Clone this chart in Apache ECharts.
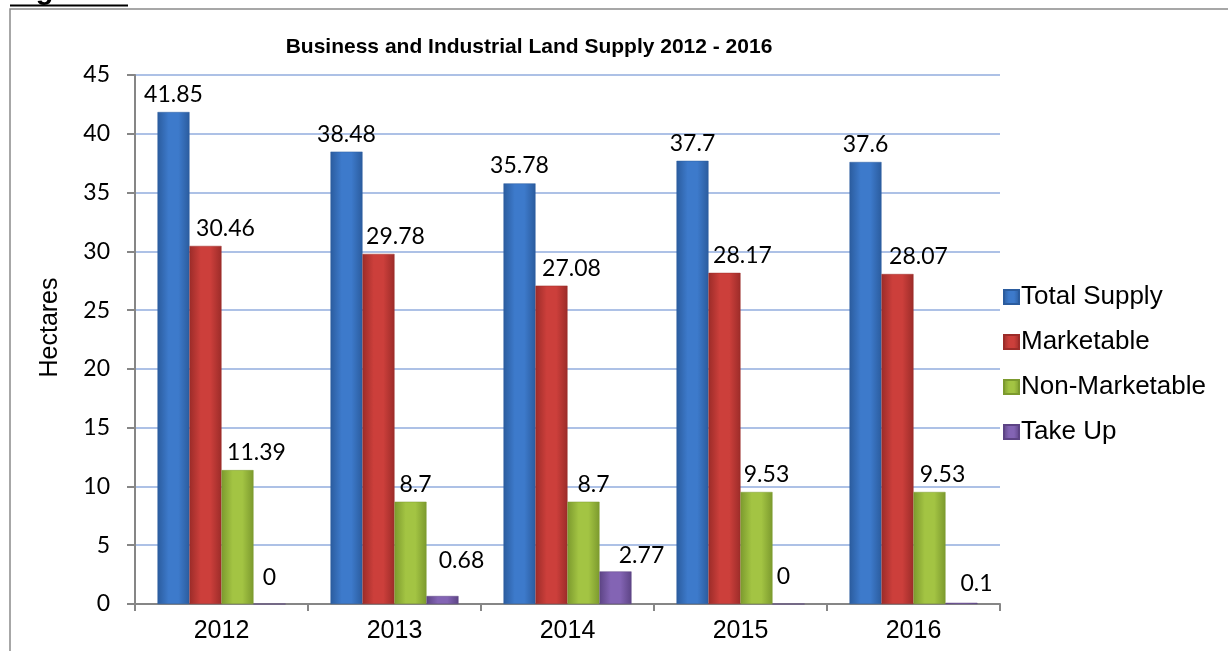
<!DOCTYPE html>
<html>
<head>
<meta charset="utf-8">
<script src="https://cdn.jsdelivr.net/npm/echarts@6/dist/echarts.min.js"></script>
<style>
  html, body { margin: 0; padding: 0; background: #ffffff; }
  #chart { width: 1228px; height: 651px; }
</style>
</head>
<body>
<div id="chart"></div>
<script>
// Land supply figures, hectares
const years = ['2012', '2013', '2014', '2015', '2016'];
const totalSupply = [41.85, 38.48, 35.78, 37.7, 37.6];
const marketable = [30.46, 29.78, 27.08, 28.17, 28.07];
const nonMarketable = [11.39, 8.7, 8.7, 9.53, 9.53];
const takeUp = [0, 0.68, 2.77, 0, 0.1];

// Label nudges (px) so the value labels sit as in the printed figure
const redShift = [[20, 0], [17, 0], [20, 0], [18, 0], [21, 0]];
const greenShift = [[19, 0], [5, 0], [10, 0], [10, 0], [13, 0]];
const purpleShift = [[0, -9], [19, -18], [26, 2], [-5, -10], [15, -2]];

function barFill(edge, mid) {
  return new echarts.graphic.LinearGradient(0, 0, 1, 0, [
    { offset: 0, color: edge },
    { offset: 0.35, color: mid },
    { offset: 0.65, color: mid },
    { offset: 1, color: edge }
  ]);
}

const labelFont = { fontFamily: 'Lato', fontSize: 23, color: '#000000' };

function series(name, values, edge, mid, shifts) {
  return {
    name: name,
    type: 'bar',
    barWidth: 32,
    barGap: '0%',
    itemStyle: { color: barFill(edge, mid), borderColor: edge, borderWidth: 0.5 },
    data: values.map((v, i) => ({
      value: v,
      label: { offset: shifts ? shifts[i] : [0, 0] }
    })),
    label: Object.assign({
      show: true,
      position: 'top',
      distance: 6,
      formatter: p => String(p.value)
    }, labelFont)
  };
}

const chart = echarts.init(document.getElementById('chart'), null, { renderer: 'canvas' });

chart.setOption({
  backgroundColor: '#ffffff',
  animation: false,
  title: {
    text: 'Business and Industrial Land Supply 2012 - 2016',
    left: 524,
    textAlign: 'center',
    top: 32,
    textStyle: { fontFamily: 'Liberation Sans', fontWeight: 'bold', fontSize: 21, color: '#000000' }
  },
  legend: {
    orient: 'vertical',
    left: 998,
    top: 279,
    itemWidth: 15,
    itemHeight: 14,
    itemGap: 19,
    icon: 'rect',
    textStyle: { fontFamily: 'Liberation Sans', fontSize: 26, color: '#000000', lineHeight: 26, padding: [0, 0, 0, -3] },
    data: ['Total Supply', 'Marketable', 'Non-Marketable', 'Take Up']
  },
  grid: { left: 135, right: 228, top: 75, bottom: 47, containLabel: false },
  xAxis: {
    type: 'category',
    data: years,
    axisLine: { lineStyle: { color: '#868686', width: 2 } },
    axisTick: { show: true, alignWithLabel: false, length: 7, lineStyle: { color: '#868686', width: 2 } },
    axisLabel: { fontFamily: 'Liberation Sans', fontSize: 25, color: '#000000', margin: 15 }
  },
  yAxis: {
    type: 'value',
    min: 0,
    max: 45,
    interval: 5,
    name: 'Hectares',
    nameLocation: 'middle',
    nameGap: 72,
    nameRotate: 90,
    nameTextStyle: { fontFamily: 'Liberation Sans', fontSize: 25, color: '#000000', padding: [0, 0, 0, 24] },
    axisLine: { show: true, lineStyle: { color: '#868686', width: 2 } },
    axisTick: { show: true, length: 8, lineStyle: { color: '#868686', width: 2 } },
    axisLabel: { fontFamily: 'Lato', fontSize: 23, color: '#000000', margin: 25 },
    splitLine: { lineStyle: { color: '#adc1e6', width: 2 } }
  },
  series: [
    series('Total Supply', totalSupply, '#2b5c9e', '#3d7acb', null),
    series('Marketable', marketable, '#9c2c29', '#cc3f3b', redShift),
    series('Non-Marketable', nonMarketable, '#7c9a2e', '#a3c443', greenShift),
    series('Take Up', takeUp, '#5d4485', '#8364b4', purpleShift)
  ],
  graphic: [
    {
      type: 'rect',
      shape: { x: 10, y: 9, width: 1240, height: 700 },
      style: { fill: 'none', stroke: '#8a8a8a', lineWidth: 1.5 },
      silent: true
    },
    {
      type: 'text',
      left: 10,
      top: -24,
      style: { text: 'Figure 4', fontFamily: 'Liberation Sans', fontWeight: 'bold', fontSize: 29, fill: '#000000' },
      silent: true
    },
    {
      type: 'line',
      shape: { x1: 10, y1: 5.5, x2: 128, y2: 5.5 },
      style: { stroke: '#000000', lineWidth: 2 },
      silent: true
    }
  ]
});
</script>
</body>
</html>
